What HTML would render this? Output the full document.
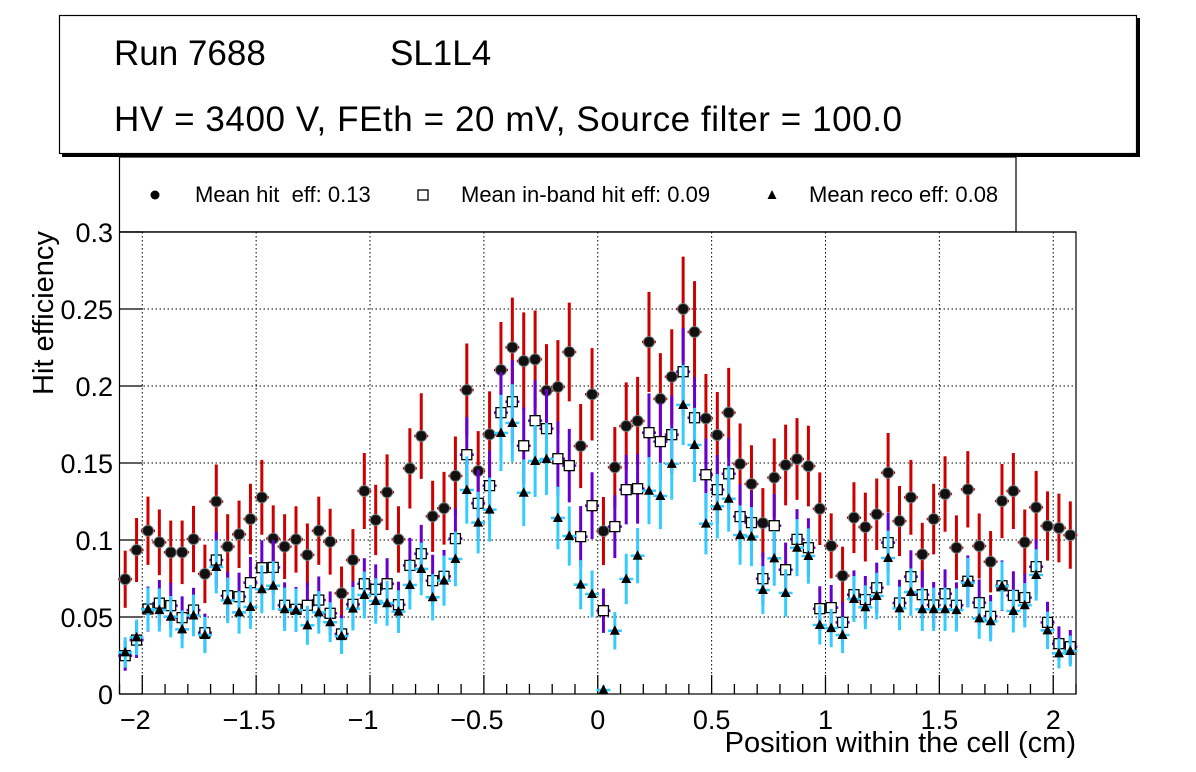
<!DOCTYPE html>
<html><head><meta charset="utf-8"><style>
html,body{margin:0;padding:0;background:#fff;}
svg{display:block;font-family:"Liberation Sans",sans-serif;}
</style></head><body>
<svg id="chart" width="1196" height="772" viewBox="0 0 1196 772">
  <rect x="62" y="18" width="1078" height="139" fill="#000"/>
  <rect x="59.5" y="15.5" width="1077" height="138" fill="#fff" stroke="#000" stroke-width="1.2"/>
  <text x="114" y="65" font-size="35">Run 7688</text>
  <text x="390" y="65" font-size="35">SL1L4</text>
  <text x="114" y="131" font-size="35" textLength="788">HV = 3400 V, FEth = 20 mV, Source filter = 100.0</text>
  <rect x="119.5" y="157" width="896.5" height="75" fill="#fff" stroke="#000" stroke-width="1.2"/>
  <g id="plot"></g>
  <g id="legend">
    <circle cx="155" cy="195" r="4.5" fill="#000"/>
    <text x="195" y="202" font-size="22">Mean hit&#160; eff: 0.13</text>
    <rect x="418" y="190" width="10" height="10" fill="#fff" stroke="#000" stroke-width="1.3"/>
    <text x="461" y="202" font-size="22">Mean in-band hit eff: 0.09</text>
    <polygon points="772,190 767.5,199 776.5,199" fill="#000"/>
    <text x="809" y="202" font-size="22">Mean reco eff: 0.08</text>
  </g>
  <text transform="translate(53,313) rotate(-90)" text-anchor="middle" font-size="29">Hit efficiency</text>
  <text x="1076" y="752" text-anchor="end" font-size="29">Position within the cell (cm)</text>
</svg>
<script>
const hitEff = [0.0745,0.0935,0.106,0.0985,0.092,0.092,0.1006,0.078,0.125,0.0957,0.1037,0.1136,0.1277,0.1009,0.0957,0.1004,0.0903,0.106,0.0989,0.0654,
0.087,0.1318,0.113,0.131,0.1004,0.1465,0.1675,0.1154,0.1206,0.1416,0.1974,0.1448,0.1686,0.2104,0.2251,0.2162,0.2173,0.197,0.1994,0.2221,0.161,0.1946,
0.1058,0.1472,0.174,0.1773,0.2286,0.1916,0.206,0.25,0.2351,0.179,0.1682,0.1827,0.1494,0.1364,0.111,0.1405,0.1487,0.1526,0.148,0.1203,0.0962,
0.0768,0.1145,0.1084,0.1167,0.1437,0.1123,0.1277,0.0907,0.1136,0.1299,0.095,0.1329,0.0961,0.0859,0.1253,0.1318,0.0985,0.1212,0.1091,0.1078,0.1032];
const inbandEff = [0.0249,0.035,0.0552,0.059,0.0574,0.0496,0.0545,0.0398,0.087,0.0638,0.0632,0.0723,0.082,0.0822,0.0576,0.055,0.0576,0.061,0.0524,0.039,
0.0582,0.0716,0.068,0.0716,0.058,0.0835,0.0911,0.0736,0.0764,0.1009,0.1554,0.1238,0.1353,0.1827,0.1898,0.1612,0.1775,0.1723,0.1528,0.1483,0.1022,0.1223,
0.0541,0.1087,0.1327,0.1333,0.1697,0.1639,0.1684,0.2093,0.1794,0.1424,0.1327,0.143,0.1152,0.1113,0.0749,0.1093,0.0807,0.1004,0.095,0.0554,0.0561,
0.0465,0.0645,0.0613,0.069,0.0983,0.0591,0.0762,0.0645,0.0578,0.0651,0.0576,0.0732,0.0593,0.0504,0.0703,0.064,0.0626,0.0827,0.0465,0.0327,0.0307];
const recoEff = [0.027,0.0368,0.055,0.0545,0.0502,0.042,0.051,0.0383,0.0825,0.0608,0.053,0.0565,0.068,0.0703,0.055,0.0545,0.0446,0.053,0.0466,0.0376,
0.0554,0.0643,0.0604,0.0589,0.0535,0.0708,0.0812,0.0628,0.0736,0.0877,0.1325,0.1113,0.1197,0.1695,0.176,0.1307,0.1513,0.1526,0.1143,0.1026,0.071,0.0649,
0.0026,0.0411,0.0747,0.0898,0.132,0.1286,0.1494,0.1877,0.1617,0.1106,0.1219,0.1268,0.1032,0.1022,0.0675,0.0881,0.0656,0.095,0.0896,0.0448,0.0428,
0.0383,0.0617,0.0563,0.0636,0.0883,0.0556,0.0662,0.055,0.055,0.055,0.0545,0.0723,0.0491,0.0472,0.0701,0.0539,0.0576,0.0773,0.0413,0.0264,0.0279];
const xTicks = [-2,-1.5,-1,-0.5,0,0.5,1,1.5,2];
const xTickLabels = ["\u22122","\u22121.5","\u22121","\u22120.5","0","0.5","1","1.5","2"];
const yTicks = [0,0.05,0.1,0.15,0.2,0.25,0.3];
const yTickLabels = ["0","0.05","0.1","0.15","0.2","0.25","0.3"];
const xMin=-2.1, xMax=2.1, binW=0.05, yMin=0, yMax=0.3;

const L=119.5,R=1076,T=232,B=694;
const sx=v=>L+(v-xMin)/(xMax-xMin)*(R-L);
const sy=v=>B-(v-yMin)/(yMax-yMin)*(B-T);
const NS='http://www.w3.org/2000/svg';
const plot=document.getElementById('plot');
function mk(tag,attrs,parent){const e=document.createElementNS(NS,tag);for(const k in attrs)e.setAttribute(k,attrs[k]);(parent||plot).appendChild(e);return e;}

const frame=mk('rect',{x:L,y:T,width:R-L,height:B-T,fill:'#fff',stroke:'#000','stroke-width':1.2});


const grid=mk('g',{stroke:'#000','stroke-width':1,'stroke-dasharray':'1.5,2.5'});


xTicks.forEach(t=>{mk('line',{x1:sx(t),x2:sx(t),y1:T,y2:B},grid);});
yTicks.forEach(t=>{if(t>0&&t<0.3)mk('line',{x1:L,x2:R,y1:sy(t),y2:sy(t)},grid);});
mk('line',{x1:L,x2:R,y1:T,y2:T,stroke:'#000','stroke-width':1.2});
const xa=mk('g',{stroke:'#000','stroke-width':1.3});


for(let v=-2.1;v<=2.1001;v+=0.1){const major=xTicks.some(t=>Math.abs(t-v)<1e-6);mk('line',{x1:sx(v),x2:sx(v),y1:B,y2:B-(major?19:10)},xa);}
xTicks.forEach((t,i)=>{const tx=mk('text',{x:sx(t)+(t<0?-7:0),y:729,'text-anchor':'middle','font-size':27,stroke:'none',fill:'#000'},xa);tx.textContent=xTickLabels[i];

});
const ya=mk('g',{stroke:'#000','stroke-width':1.3});


yTicks.forEach((t,i)=>{mk('line',{x1:L,x2:L+23,y1:sy(t),y2:sy(t)},ya);
const tx=mk('text',{x:113,y:sy(t)+10,'text-anchor':'end','font-size':27,stroke:'none',fill:'#000'},ya);tx.textContent=yTickLabels[i];

});

function series(vals,color,errScale,kind,name){
  const g=mk('g',{});
  
  
  vals.forEach((v,i)=>{
    const xc=sx(xMin+(i+0.5)*binW), yc=sy(v), e=errScale*Math.sqrt(Math.max(v,0.002));
    mk('line',{x1:xc,x2:xc,y1:sy(v+e),y2:sy(Math.max(0,v-e)),stroke:color,'stroke-width':3},g);
    mk('line',{x1:xc-7,x2:xc+7,y1:yc,y2:yc,stroke:color,'stroke-width':2.5},g);
  });
  vals.forEach((v,i)=>{
    const xc=sx(xMin+(i+0.5)*binW), yc=sy(v); let m;
    if(kind==='circle') m=mk('circle',{cx:xc,cy:yc,r:5.5,fill:'#111',stroke:'#777','stroke-width':1},g);
    else if(kind==='square') m=mk('rect',{x:xc-5,y:yc-5,width:10,height:10,fill:'#fff',stroke:'#000','stroke-width':1.3},g);
    else m=mk('polygon',{points:`${xc},${yc-5.5} ${xc-5},${yc+4} ${xc+5},${yc+4}`,fill:'#000'},g);
    
    
  });
}
series(hitEff,'#cc0000',0.068,'circle','hit-eff');
series(inbandEff,'#6600cc',0.062,'square','inband-eff');
series(recoEff,'#33ccff',0.06,'triangle','reco-eff');
</script>
</body></html>
